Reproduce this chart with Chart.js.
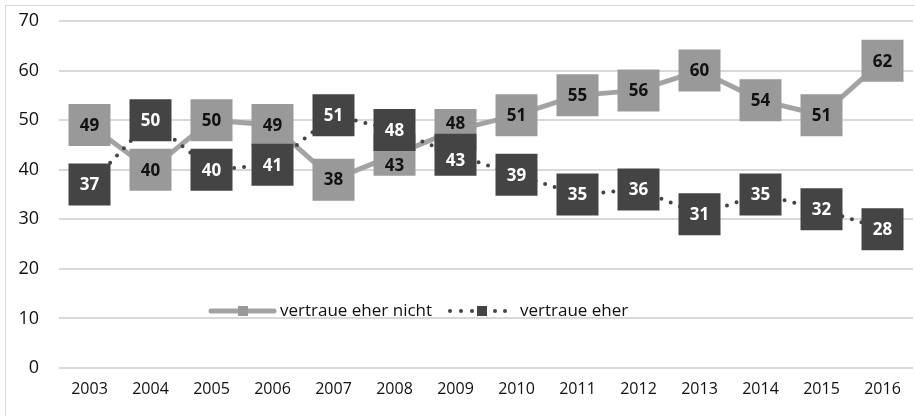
<!DOCTYPE html>
<html>
<head>
<meta charset="utf-8">
<script src="https://cdn.jsdelivr.net/npm/chart.js@4/dist/chart.umd.min.js"></script>
<style>
  html, body { margin: 0; padding: 0; background: #fff; overflow: hidden; }
  #wrap { position: absolute; left: 0; top: 0; width: 915px; height: 416px; overflow: hidden; }
  #frame { position: absolute; left: 5px; top: 5px; width: 920px; height: 420px; border: 1.5px solid #d9d9d9; box-sizing: border-box; pointer-events: none; }
</style>
</head>
<body>
<div id="wrap">
  <canvas id="c" width="915" height="416"></canvas>
  <div id="frame"></div>
</div>
<script>
const years = ['2003','2004','2005','2006','2007','2008','2009','2010','2011','2012','2013','2014','2015','2016'];
const eherNicht = [49,40,50,49,38,43,48,51,55,56,60,54,51,62];
const eher = [37,50,40,41,51,48,43,39,35,36,31,35,32,28];
const seriesNames = ['vertraue eher nicht', 'vertraue eher'];
const yTicks = [0,10,20,30,40,50,60,70];

const LIGHT = '#999999';
const LIGHT_LINE = '#a3a3a3';
const DARK = '#444444';
const FONT = '"Open Sans", sans-serif';

// small vertical nudges (px) for labels of overlapping boxes, keyed "dataset:index"
const labelNudge = { '0:5': 10, '0:6': -7, '1:6': 5 };

const labelPlugin = {
  id: 'boxLabels',
  afterDatasetsDraw(chart) {
    const ctx = chart.ctx;
    ctx.save();
    ctx.font = 'bold 17px ' + FONT;
    ctx.textAlign = 'center';
    ctx.textBaseline = 'middle';
    chart.data.datasets.forEach((ds, di) => {
      const meta = chart.getDatasetMeta(di);
      ctx.fillStyle = ds.labelColor;
      meta.data.forEach((pt, i) => {
        const dy = labelNudge[di + ':' + i] || 0;
        ctx.fillText(String(ds.data[i]), pt.x, pt.y + 1 + dy);
      });
    });
    ctx.restore();
  }
};

const legendPlugin = {
  id: 'innerLegend',
  afterDraw(chart) {
    const ctx = chart.ctx;
    const y = 311;
    ctx.save();
    ctx.strokeStyle = LIGHT_LINE;
    ctx.lineWidth = 5;
    ctx.lineCap = 'round';
    ctx.beginPath(); ctx.moveTo(211, y); ctx.lineTo(274, y); ctx.stroke();
    ctx.fillStyle = LIGHT;
    ctx.fillRect(238, y - 5, 10, 10);
    ctx.fillStyle = DARK;
    [450, 461, 472, 495, 505].forEach(x => { ctx.beginPath(); ctx.arc(x, y, 2, 0, Math.PI * 2); ctx.fill(); });
    ctx.fillRect(477, y - 5, 10, 10);
    ctx.font = '17px ' + FONT;
    ctx.fillStyle = '#111';
    ctx.textBaseline = 'middle';
    ctx.textAlign = 'left';
    ctx.fillText(seriesNames[0], 280, y);
    ctx.fillText(seriesNames[1], 520, y);
    ctx.restore();
  }
};

new Chart(document.getElementById('c'), {
  type: 'line',
  data: {
    labels: years,
    datasets: [
      {
        label: seriesNames[0],
        data: eherNicht,
        order: 2,
        borderColor: LIGHT_LINE,
        borderWidth: 5,
        backgroundColor: LIGHT,
        pointStyle: 'rect',
        pointRadius: 29.7,
        pointHoverRadius: 29.7,
        pointBackgroundColor: LIGHT,
        pointBorderWidth: 0,
        tension: 0,
        fill: false,
        clip: false,
        labelColor: '#111111'
      },
      {
        label: seriesNames[1],
        data: eher,
        order: 1,
        borderColor: DARK,
        borderWidth: 4,
        borderDash: [0, 10],
        borderCapStyle: 'round',
        backgroundColor: DARK,
        pointStyle: 'rect',
        pointRadius: 29.7,
        pointHoverRadius: 29.7,
        pointBackgroundColor: DARK,
        pointBorderWidth: 0,
        tension: 0,
        fill: false,
        clip: false,
        labelColor: '#ffffff'
      }
    ]
  },
  options: {
    responsive: false,
    animation: false,
    events: [],
    layout: { autoPadding: false, padding: { top: 21, right: 2, left: 0, bottom: 0 } },
    plugins: { legend: { display: false }, tooltip: { enabled: false } },
    scales: {
      x: {
        offset: true,
        grid: { display: false, drawTicks: false },
        border: { display: false },
        ticks: { color: '#111', font: { family: FONT, size: 16 }, padding: 12, maxRotation: 0 },
        afterFit(s) { s.height = 48; }
      },
      y: {
        min: 0, max: 70,
        afterBuildTicks(s) { s.ticks = yTicks.map(v => ({ value: v })); },
        grid: { color: '#d9d9d9', lineWidth: 2, drawTicks: false },
        border: { display: false },
        ticks: { color: '#111', font: { family: FONT, size: 18 }, padding: 20 },
        afterFit(s) { s.width = 59; s.paddingTop = 0; s.paddingBottom = 0; }
      }
    }
  },
  plugins: [labelPlugin, legendPlugin]
});
</script>
</body>
</html>
